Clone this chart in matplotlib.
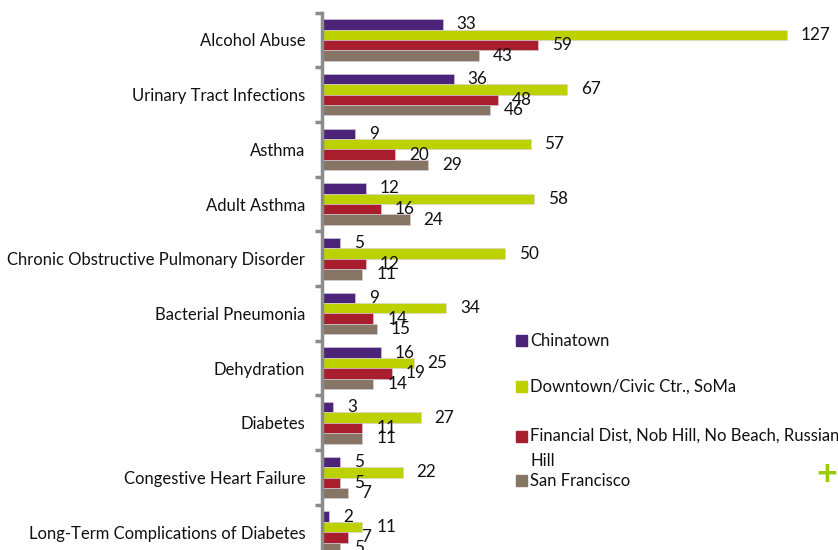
import matplotlib.pyplot as plt
from matplotlib.patches import Rectangle
import numpy as np

categories = ['Alcohol Abuse', 'Urinary Tract Infections', 'Asthma', 'Adult Asthma',
              'Chronic Obstructive Pulmonary Disorder', 'Bacterial Pneumonia', 'Dehydration',
              'Diabetes', 'Congestive Heart Failure', 'Long-Term Complications of Diabetes']
series = ['Chinatown', 'Downtown/Civic Ctr., SoMa',
          'Financial Dist, Nob Hill, No Beach, Russian\nHill', 'San Francisco']
chinatown = [33, 36, 9, 12, 5, 9, 16, 3, 5, 2]
downtown = [127, 67, 57, 58, 50, 34, 25, 27, 22, 11]
financial = [59, 48, 20, 16, 12, 14, 19, 11, 5, 7]
san_francisco = [43, 46, 29, 24, 11, 15, 14, 11, 7, 5]
colors = ['#4b2378', '#bdd000', '#a81e2c', '#867465']

plt.rcParams['font.family'] = ['Lato', 'DejaVu Sans']
FS = 12

W, H = 838, 550
fig = plt.figure(figsize=(W / 100, H / 100), dpi=100)
# axes placed in pixel terms; bottom group runs off the figure like the source
left, top, unit_px, xscale = 322, 12.6, 54.7, 3.66
ax = fig.add_axes([left / W, 1 - (top + 10 * unit_px) / H, 140 * xscale / W, 10 * unit_px / H])

y = np.arange(len(categories))
bh = 0.19
data = [chinatown, downtown, financial, san_francisco]
for k, (vals, c) in enumerate(zip(data, colors)):
    bars = ax.barh(y + (k - 1.5) * bh, vals, height=bh, color=c, edgecolor='#d8d0e0', linewidth=0.4)
    ax.bar_label(bars, padding=10, fontsize=12.3, color='#111111')

ax.set_xlim(0, 140)
ax.set_ylim(len(categories) - 0.5, -0.5)
ax.set_xticks([])
for s in ['top', 'right', 'bottom']:
    ax.spines[s].set_visible(False)
ax.spines['left'].set_color('#8c8c8c')
ax.spines['left'].set_linewidth(2.5)
ax.set_yticks(np.arange(len(categories) + 1) - 0.5)
ax.set_yticklabels([])
ax.tick_params(axis='y', which='major', length=5, width=2.5, color='#8c8c8c')
ax.set_yticks(y, minor=True)
ax.set_yticklabels(categories, minor=True, fontsize=FS, color='#111111')
ax.tick_params(axis='y', which='minor', length=0, pad=12)

# legend drawn by hand to keep the source's uneven spacing
leg_y = [341, 387, 437, 481]
for lab, c, ly in zip(series, colors, leg_y):
    fig.add_artist(Rectangle((516 / W, 1 - (ly + 5) / H), 11 / W, 11 / H,
                             transform=fig.transFigure, color=c))
    if '\n' in lab:
        fig.text(530 / W, 1 - (ly - 9) / H, lab, fontsize=FS, va='top', ha='left',
                 color='#111111', linespacing=1.7)
    else:
        fig.text(530 / W, 1 - ly / H, lab, fontsize=FS, va='center', ha='left', color='#111111')
fig.text(827 / W, 1 - 474 / H, '+', color='#9acd00', fontsize=26, fontweight='bold',
         ha='center', va='center')

fig.savefig('out.png', dpi=100)
